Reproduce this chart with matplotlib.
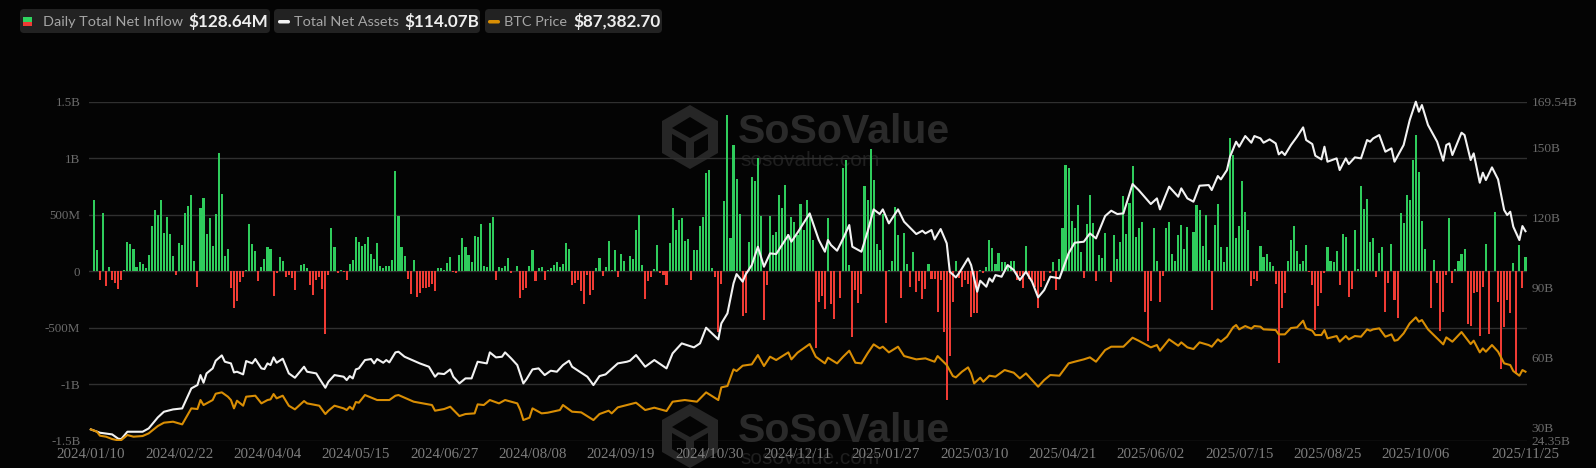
import matplotlib
matplotlib.use("Agg")
import matplotlib.pyplot as plt
from matplotlib.patches import FancyBboxPatch, Rectangle, Polygon

# daily net inflow in $M (first session has no flow)
inflow_a = [0, 628, 186, -74, 516, -130, 38, -74, -103, -156, -74, 15, 257, 245, 195, 35, 80, 68, 32, 145,
            404, 540, 493, 628, 339, 478, 330, 133, -35, 251, 230, 519, 575, 673, 91, -139, 563, 649, 330, 469,
            221, 504, 1047, 681, 133, 198, -153, -324, -262, -94, -50, 15, 416, 245, 180, -85, 38, 112, 212, 200,
            -221, -20, 124, 88, -50, -38, -59, -162, 3, 59, 62, 32, -118, -215, -80, -50, -159, -560, -30, 378,
            215, -15, 12, -9, -80, 65, 97, 301, 257, 221, 239, 304, 153, 106, 251, 44, 30, 47, 47, 103,
            888, 487]
inflow_b = [215, 133, -65, -198, 100, -227, -189, -153, -153, -142, -115, -174, 30, 24, 9, 71, 127, -9, -18, 142,
            295, 215, 145, 77, 310, 301, 422, 50, 35, 428, 484, -77, 41, 30, 50, 121, -15, 2, 50, -233,
            -168, -148, 44, 192, -89, 27, 35, -80, 9, 32, 59, 83, 38, 65, 248, 200, -124, -103, -74, -171,
            -286, -35, -209, -168, 24, 118, -41, 38, 263, 9, 186, -50, 156, 91, 3, 133, 106, 366, 493, 59,
            -242, -86, -53, 21, 236, -15, -38, -118, 251, 555, 369, 457, 469, 271, 289, -77, 192, 189, 398, 481,
            867, 894, 30, -50, -537, -112, 620, 1378, 295, 1115, 817, 507, -398, -366, 254, 835, 796, 1000, 490, -434,
            -121, 490, 319, 351, 676, 555, 764, 333, 481, 437, 319, 593]
inflow_c = [363, 634, 510, 274, -676, -271, -221, -336, 475, -292, -422, 6, -236, 909, 988, 53, -581, -168, -280, -204,
            752, 628, 1077, 805, 245, 186, 504, -454, 15, 91, 569, 319, -233, 339, 65, -139, 168, -183, -86, -248,
            -156, 65, -65, -65, -360, -80, -537, -1136, -752, -271, 91, -59, -139, -80, -109, -404, -366, -366, 15, -15,
            38, 274, 209, 68, 165, 80, 80, 44, 88, 88, -80, -44, -153, 221, -71, -94, -139, -325, -139, -89,
            6, -15, 77, -168, 112, 384, 938, 917, 442, 381, 590, 171, -56, 422, 673, 428, -86, 142, 118, 336,
            6, -94, 319, 112, 257, 667, 327, 605, 935, 304, 384, 431, -360, -617, -263, 378, 86, -274, -44, 384,
            431, 156, 86, 324, 413, 200, 389, 6, 348, 587, 546]
inflow_d = [227, 501, 97, -339, 407, 599, 215, 77, 215, 1180, 1027, 295, 401, 799, 522, 363, -130, -71, -86, 224,
            130, 156, 77, 44, -112, -811, -330, -192, 88, 280, 404, 177, 65, 86, 230, -9, -121, -522, -310, -192,
            -20, 218, 88, 80, 177, -124, 330, 301, -224, -159, 366, 21, 755, 552, 640, 260, 292, -50, 162, 218,
            -360, -100, 239, -251, -416, 519, 428, 676, 628, 988, 1207, 876, 440, 195, 2, -324, 100, -100, -531, -363,
            -38, 475, -100, 18, 88, 150, 200, -469, -487, -189, -186, -575, -139, 239, -555, 3, 522, -274, -867, -493,
            -251, -369, 74, -906, 236, -148, 128.64]
inflow = inflow_a + inflow_b + inflow_c + inflow_d

# total net assets in $B, read at the turning points
assets_idx = [0, 3, 7, 9, 10, 12, 17, 19, 22, 24, 27, 30, 33, 35, 36, 37, 38, 40, 41, 43, 44, 46, 47, 48, 50, 51, 53, 54, 56, 57,
              58, 59, 60, 61, 63, 65, 67, 70, 71, 74, 75, 77, 78, 80, 83, 84, 85, 86, 87, 88, 90, 92, 93, 94, 96, 97, 98, 100, 101,
              103, 106, 108, 111, 113, 114, 116, 118, 119, 121, 123, 125, 127, 130, 131, 133, 135, 136, 138, 140, 142, 143, 145, 147,
              149, 151, 153, 155, 157, 158, 161, 163, 165, 167, 169, 173, 176, 177, 179, 182, 185, 189, 191, 194, 198, 200, 202, 206,
              207, 209, 211, 212, 214, 215, 217, 219, 221, 223, 225, 229, 230, 232,
              236, 239, 241, 242, 243, 245, 247, 249, 250, 253, 255, 257, 259, 260, 262, 265, 267, 271, 273, 274, 276, 277, 279, 281,
              282, 284, 285, 288, 289, 291, 292, 294, 295, 296, 297, 299, 301, 303, 305, 307, 309, 311, 313, 315, 318, 321, 323, 326,
              328, 330, 333, 335, 337, 339, 342, 344, 348, 350, 351, 354, 357, 358, 360, 362, 364,
              367, 368, 370, 371, 373, 374, 376, 377, 379, 381, 382, 384, 385, 387, 389, 390, 391, 392, 394, 396, 398, 399, 401, 402,
              404, 405, 406, 409, 410, 412, 413, 415, 417, 419, 420, 421, 423, 425, 427, 428, 431, 433, 435, 436, 437, 439, 442, 444,
              445, 446, 447, 450, 451, 453, 454, 456, 457, 458, 460, 462, 464, 465, 466, 467, 469, 470, 471]
assets = [29.19, 27.76, 27.05, 25.19, 25.05, 28.19, 28.19, 29.62, 34.33, 36.75, 37.75, 38.18, 46.75, 48.18, 52.46, 49.18, 53.18, 55.32, 58.60, 60.89,
          58.17, 57.46, 53.60, 53.89, 52.75, 58.46, 57.46, 59.32, 55.32, 55.03, 57.46, 56.75, 60.03, 57.74, 59.46, 53.18, 51.32, 56.03, 53.89, 53.18,
          51.04, 47.03, 49.60, 52.46, 51.75, 50.32, 52.03, 51.04, 54.89, 55.32, 58.89, 59.32, 57.46, 59.32, 57.74, 58.89, 57.89, 62.17, 62.46,
          60.31, 58.60, 57.46, 56.03, 51.75, 53.18, 52.89, 54.89, 51.75, 48.89, 51.04, 51.04, 58.17, 57.46, 62.17, 60.03, 60.31, 62.17, 59.60, 56.75,
          48.89, 50.61, 54.89, 55.32, 52.46, 54.32, 53.89, 56.75, 58.60, 56.03, 53.46, 51.75, 48.18, 52.03, 52.75, 57.46, 58.17, 58.60, 61.03, 56.03,
          58.89, 55.32, 61.75, 66.03, 64.32, 66.03, 72.74, 67.74, 74.59, 78.88, 91.75, 95.72, 92.46, 95.58, 99.58, 107.43, 98.86, 104.57, 104.29, 112.43,
          109.57, 113.43,
          121.71, 110.29, 105.29, 110.29, 108.14, 105.72, 111.00, 116.71, 107.43, 105.29, 113.86, 123.42, 121.42, 123.42, 117.43, 123.42, 118.14, 112.86,
          114.28, 113.14, 114.57, 110.57, 115.00, 108.86, 96.72, 94.29, 96.01, 102.43, 99.58, 88.16, 92.87, 90.30, 93.87, 92.44, 95.29, 94.58, 99.58,
          97.43, 93.15, 96.72, 92.44, 85.73, 88.87, 94.58, 93.87, 104.57, 109.14, 109.57, 113.14, 111.00, 120.57, 122.85, 121.42, 121.71, 134.27, 131.70,
          125.71, 128.13, 123.42, 133.13, 128.84, 132.42, 128.13, 126.71, 133.56,
          133.84, 131.70, 137.70, 136.27, 140.27, 145.98, 152.41, 150.26, 154.83, 151.98, 154.83, 153.83, 151.98, 153.40, 151.69, 146.98, 148.12, 146.70,
          150.98, 154.55, 158.55, 153.12, 151.41, 146.41, 144.84, 150.26, 143.84, 145.27, 140.27, 145.27, 142.84, 145.70, 145.27, 153.12, 152.41, 153.83,
          155.26, 148.12, 149.55, 143.84, 150.98, 161.69, 169.54, 165.26, 168.11, 159.55, 152.41, 144.27, 150.98, 151.69, 146.70, 156.26, 155.26, 144.55,
          147.41, 134.84, 139.13, 135.99, 141.41, 136.27, 123.14, 120.99, 122.42, 115.99, 110.28, 116.28, 114.07]

# BTC price in $, read at the turning points
btc_idx = [0, 2, 3, 5, 7, 9, 10, 12, 14, 17, 19, 22, 24, 27, 30, 33, 35, 36, 37, 40, 41, 43, 45, 46, 47, 48, 50, 51, 54, 56, 58, 59, 60, 61,
           63, 65, 67, 70, 71, 75, 77, 78, 80, 83, 84, 85, 86, 87, 88, 90, 94, 98, 100, 101,
           106, 109, 112, 113, 116, 118, 121, 123, 126, 127, 129, 131, 134, 136, 140, 141, 142, 144, 145, 148, 150, 154, 155, 158, 161, 165, 167, 170,
           171, 173, 179, 182, 185, 189, 191, 195, 199, 202, 206, 207, 209, 211, 212, 214, 217, 219, 221, 223, 225, 229, 230, 232,
           236, 238, 241, 242, 245, 247, 249, 251, 253, 255, 257, 259, 260, 262, 265, 267, 271, 274, 277, 278, 281, 283, 284, 286, 288, 289, 290, 292,
           293, 295, 297, 300, 303, 305, 307, 309, 311, 313, 315, 318, 321, 323, 326, 328, 330, 333, 335, 339, 342, 344, 348, 350, 351, 354, 357, 358,
           360, 362, 364,
           367, 368, 370, 371, 373, 375, 376, 377, 379, 381, 382, 384, 385, 389, 390, 392, 394, 396, 398, 399, 401, 402, 404, 405, 406, 409, 410, 412,
           413, 415, 417, 419, 420, 421, 423, 425, 427, 428, 429, 431, 433, 435, 436, 437, 439, 442, 444, 445, 447, 450, 451, 453, 454, 456, 457, 458,
           460, 462, 464, 466, 467, 469, 470, 471]
btc = [46381, 44722, 41878, 41167, 39508, 38560, 38797, 42352, 41167, 41641, 43537, 48751, 51121, 51832, 49936, 61312, 60838, 67237, 63682, 67237,
       71740, 72688, 69607, 67237, 61312, 66748, 63208, 69607, 70318, 64867, 67237, 67711, 71503, 68422, 70318, 63208, 60601, 66526, 64867, 63208,
       57283, 59653, 63208, 61312, 60127, 62497, 60601, 65815, 65341, 70792, 67237, 67237, 70318, 70792,
       66052, 64867, 63682, 59653, 60838, 62497, 55861, 57283, 57757, 64156, 63682, 67237, 64867, 67237, 64867, 60127, 53017, 54676, 61312, 57757,
       58231, 60127, 63682, 58943, 58469, 53017, 57283, 59653, 57757, 62023, 65341, 60127, 61786, 59416, 66052, 67237, 66052, 72688, 67237, 76243,
       77191, 89041, 87856, 91648, 92596, 99232, 91411, 98047, 95677, 101128, 96151, 100891,
       107053, 98047, 93307, 97336, 93307, 98047, 102313, 93781, 93307, 100417, 106816, 103972, 105157, 101128, 105157, 98521, 96151, 96862, 94492,
       98521, 92122, 84301, 83353, 87382, 90463, 86197, 79087, 83116, 80272, 84538, 83827, 88567, 86671, 82642, 86197, 81457, 76717, 81457, 85012,
       84538, 93307, 94492, 96151, 97573, 94492, 102787, 105157, 105157, 111556, 109423, 104683, 106342, 102313, 110371, 105868, 108238, 104683, 103498,
       108238,
       106342, 105157, 110371, 108712, 112267, 118903, 120562, 117481, 119851, 117955, 119851, 119377, 117481, 117007, 113926, 113926, 118429, 118903,
       123643, 118192, 116533, 113452, 113452, 117007, 111082, 112741, 108712, 112741, 110371, 112741, 112267, 117481, 116533, 117481, 118192, 112267,
       113926, 109423, 109897, 114637, 121747, 126013, 122932, 124117, 117481, 111082, 106816, 111793, 108712, 115585, 112741, 107053, 109423, 101128,
       103972, 101602, 106342, 101602, 93307, 92122, 87856, 84538, 88567, 87382]

tick_labels = ["2024/01/10", "2024/02/22", "2024/04/04", "2024/05/15", "2024/06/27", "2024/08/08", "2024/09/19", "2024/10/30",
               "2024/12/11", "2025/01/27", "2025/03/10", "2025/04/21", "2025/06/02", "2025/07/15", "2025/08/25", "2025/10/06",
               "2025/11/25"]
left_ticks = [-1500, -1000, -500, 0, 500, 1000, 1500]
left_labels = ["-1.5B", "-1B", "-500M", "0", "500M", "1B", "1.5B"]
right_ticks = [24.35, 30, 60, 90, 120, 150, 169.54]
right_labels = ["24.35B", "30B", "60B", "90B", "120B", "150B", "169.54B"]
legend_names = ["Daily Total Net Inflow", "Total Net Assets", "BTC Price"]
legend_values = ["$128.64M", "$114.07B", "$87,382.70"]

W, H = 1596, 468
GREEN = "#2fcc5c"
RED = "#ef3b34"
GRID = "#303030"
AXTXT = "#6b6b6b"

plt.rcParams['font.family'] = ['Liberation Serif', 'DejaVu Serif']

fig = plt.figure(figsize=(W / 100, H / 100), dpi=100, facecolor="#040404")

# overlay in pixels for watermark and legend chips
bg = fig.add_axes([0, 0, 1, 1], zorder=0)
bg.set_xlim(0, W)
bg.set_ylim(H, 0)
bg.axis("off")


def watermark(cy):
    hexa = [(690, cy - 32), (718, cy - 16), (718, cy + 16), (690, cy + 32), (662, cy + 16), (662, cy - 16)]
    bg.add_patch(Polygon(hexa, closed=True, fc="#262626", ec="none"))
    bg.add_patch(Polygon([(690, cy - 20), (708, cy - 9), (690, cy + 1), (672, cy - 9)], fc="#040404", ec="none"))
    bg.add_patch(Polygon([(672, cy - 3), (686, cy + 5), (686, cy + 22), (672, cy + 13)], fc="#040404", ec="none"))
    bg.add_patch(Polygon([(694, cy + 5), (708, cy - 3), (708, cy + 13), (694, cy + 22)], fc="#040404", ec="none"))
    bg.text(738, cy - 5, "SoSoValue", family="Liberation Sans", fontsize=29.5, fontweight="bold",
            color="#2a2a2a", va="center", ha="left")
    bg.text(740, cy + 23, "sosovalue.com", family="Liberation Sans", fontsize=15,
            color="#1f1f1f", va="center", ha="left")


watermark(137)
watermark(436)

ax_l, ax_r, ax_t, ax_b = 89.3, 1527.0, 101.7, 440.7
rect = [ax_l / W, 1 - ax_b / H, (ax_r - ax_l) / W, (ax_b - ax_t) / H]

ax = fig.add_axes(rect, zorder=1)
ax.patch.set_alpha(0)
xs = list(range(len(inflow)))
colors = [GREEN if v >= 0 else RED for v in inflow]
ax.yaxis.grid(True, color=GRID, lw=1.0)
ax.set_axisbelow(True)
ax.bar(xs, inflow, width=0.68, color=colors, linewidth=0, zorder=2)
ax.set_xlim(-0.5, len(inflow) - 0.5)
ax.set_ylim(-1500, 1500)
ax.set_yticks(left_ticks, left_labels, fontsize=9.4, color=AXTXT)
ax.set_xticks([i * 29 for i in range(16)] + [len(inflow) - 1], tick_labels, fontsize=10.8, color="#7d7d7d")
ax.tick_params(axis="both", length=0)
ax.tick_params(axis="y", pad=6.5)
ax.tick_params(axis="x", pad=5)
for s in ax.spines.values():
    s.set_visible(False)

ax2 = fig.add_axes(rect, zorder=2, sharex=ax)
ax2.patch.set_alpha(0)
ax2.plot(assets_idx, assets, color="#f2f2f2", lw=1.5, zorder=4, solid_joinstyle="round", clip_on=False)
ax2.set_ylim(24.35, 169.54)
ax2.yaxis.tick_right()
ax2.set_yticks(right_ticks, right_labels, fontsize=9.6, color=AXTXT)
ax2.tick_params(axis="y", length=0, pad=3.5)
ax2.tick_params(axis="x", length=0, labelbottom=False)
for s in ax2.spines.values():
    s.set_visible(False)

ax3 = fig.add_axes(rect, zorder=2, sharex=ax)
ax3.patch.set_alpha(0)
ax3.plot(btc_idx, btc, color="#d98e04", lw=1.5, zorder=3, solid_joinstyle="round")
ax3.set_ylim(38323, 279352)
ax3.axis("off")

# legend chips
chips = [(20, 250), (274, 206), (485, 177)]
for x0, w in chips:
    bg.add_patch(FancyBboxPatch((x0, 9), w, 24, boxstyle="round,pad=0,rounding_size=4",
                                mutation_aspect=1, fc="#222222", ec="none"))
bg.add_patch(Rectangle((23, 17), 9, 5, fc="#2fd35f", ec="none"))
bg.add_patch(Rectangle((23, 22), 9, 4, fc="#ef3b34", ec="none"))
bg.add_patch(FancyBboxPatch((278, 20), 12, 3.5, boxstyle="round,pad=0,rounding_size=1.7", fc="#f2f2f2", ec="none"))
bg.add_patch(FancyBboxPatch((488, 20), 12, 3.5, boxstyle="round,pad=0,rounding_size=1.7", fc="#d98e04", ec="none"))

for s, x in zip(legend_names, [43, 294, 504]):
    bg.text(x, 22, s, family="Lato", fontsize=10.4, color="#a6a6a6", va="center", ha="left")
for s, x in zip(legend_values, [188, 404, 573]):
    bg.text(x, 22, s, family="Lato", fontsize=12.3, fontweight="bold", color="#efefef", va="center", ha="left")

fig.savefig("out.png", dpi=100, facecolor=fig.get_facecolor())
